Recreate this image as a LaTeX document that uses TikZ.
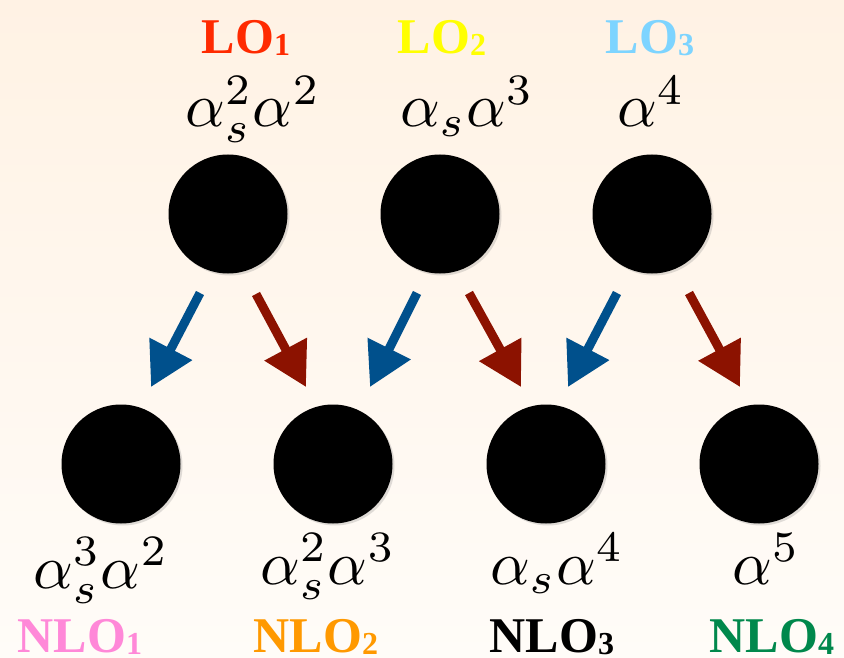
\documentclass[tikz,border=0pt]{standalone}
\usepackage{fontspec}
\newfontfamily\lofont{Liberation Serif Bold}
\usetikzlibrary{arrows.meta,shadows}
\definecolor{bgtop}{RGB}{255,242,228}
\definecolor{bgbot}{RGB}{255,252,248}
\definecolor{arrblue}{RGB}{0,80,140}
\definecolor{arrred}{RGB}{140,18,0}
\definecolor{cLOa}{RGB}{255,42,0}
\definecolor{cLOb}{RGB}{255,255,0}
\definecolor{cLOc}{RGB}{125,212,255}
\definecolor{cNLOa}{RGB}{255,136,216}
\definecolor{cNLOb}{RGB}{255,153,0}
\definecolor{cNLOc}{RGB}{0,0,0}
\definecolor{cNLOd}{RGB}{0,136,76}
\newcommand{\lodig}[1]{\raisebox{-2pt}{\fontsize{32}{34}\selectfont #1}}
\tikzset{
  blob/.style={circle,fill=black,minimum size=119pt,inner sep=0pt,
    drop shadow={opacity=0.25,shadow xshift=2pt,shadow yshift=-2pt}},
  mathlbl/.style={anchor=base,inner sep=0pt,scale=6.2},
  lolbl/.style={anchor=base,inner sep=0pt,font=\lofont\fontsize{50}{52}\selectfont},
  conn/.style={line width=9pt,-{Triangle[length=43pt,width=46pt]}},
  bluearr/.style={conn,draw=arrblue,fill=arrblue},
  redarr/.style={conn,draw=arrred,fill=arrred}
}
\begin{document}
\begin{tikzpicture}[x=1pt,y=-1pt]
\shade[top color=bgtop,bottom color=bgbot] (0,0) rectangle (844,658);
\useasboundingbox (0,0) rectangle (844,658);
% top row
\node[blob] (t1) at (228,214) {};
\node[blob] (t2) at (440,214) {};
\node[blob] (t3) at (652,214) {};
% bottom row
\node[blob] (b1) at (121,464) {};
\node[blob] (b2) at (333,464) {};
\node[blob] (b3) at (546,464) {};
\node[blob] (b4) at (759,464) {};
% top labels
\node[lolbl,text=cLOa] (lo1) at (246,54) {LO\lodig{1}};
\node[lolbl,text=cLOb] (lo2) at (442,54) {LO\lodig{2}};
\node[lolbl,text=cLOc] (lo3) at (650,54) {LO\lodig{3}};
\node[mathlbl] (m1) at (253,127) {$\alpha_s^2\alpha^2$};
\node[mathlbl] (m2) at (467,127) {$\alpha_s\alpha^3$};
\node[mathlbl] (m3) at (651,127) {$\alpha^4$};
% bottom labels
\node[mathlbl] (n1) at (101,588) {$\alpha_s^3\alpha^2$};
\node[mathlbl] (n2) at (328,584) {$\alpha_s^2\alpha^3$};
\node[mathlbl] (n3) at (557,584) {$\alpha_s\alpha^4$};
\node[mathlbl] (n4) at (766,584) {$\alpha^5$};
\node[lolbl,text=cNLOa] (nlo1) at (80,652) {NLO\lodig{1}};
\node[lolbl,text=cNLOb] (nlo2) at (316,652) {NLO\lodig{2}};
\node[lolbl,text=cNLOc] (nlo3) at (552,652) {NLO\lodig{3}};
\node[lolbl,text=cNLOd] (nlo4) at (772,652) {NLO\lodig{4}};
% arrow end points
\coordinate (a1s) at (200,293); \coordinate (a1e) at (151,387);
\coordinate (a2s) at (256,294); \coordinate (a2e) at (306,387);
\coordinate (a3s) at (417,293); \coordinate (a3e) at (370,387);
\coordinate (a4s) at (469,293); \coordinate (a4e) at (521,387);
\coordinate (a5s) at (617,293); \coordinate (a5e) at (568,387);
\coordinate (a6s) at (689,293); \coordinate (a6e) at (740,387);
\draw[bluearr] (a1s) -- (a1e);
\draw[redarr] (a2s) -- (a2e);
\draw[bluearr] (a3s) -- (a3e);
\draw[redarr] (a4s) -- (a4e);
\draw[bluearr] (a5s) -- (a5e);
\draw[redarr] (a6s) -- (a6e);
\end{tikzpicture}
\end{document}
